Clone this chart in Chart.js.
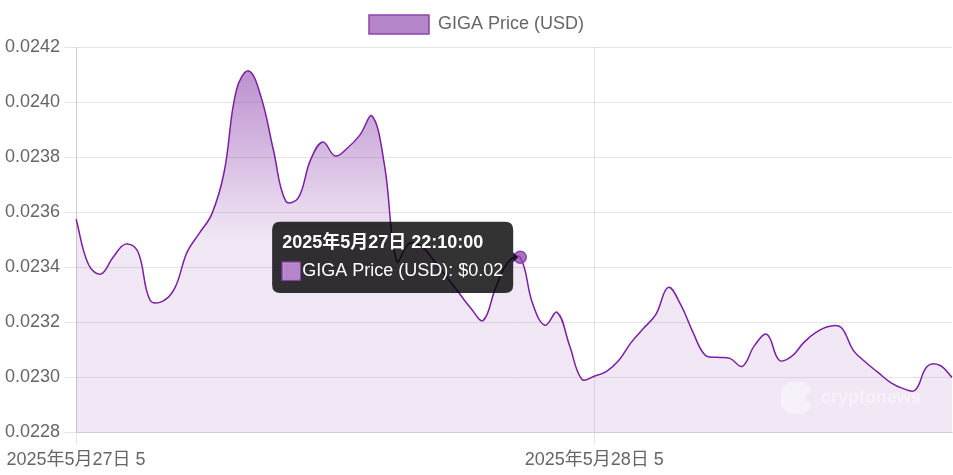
<!DOCTYPE html>
<html>
<head>
<meta charset="utf-8">
<script src="https://cdn.jsdelivr.net/npm/chart.js@4.4.1/dist/chart.umd.min.js"></script>
<style>
  body { margin: 0; background: #fff; }
  #wrap { width: 953px; height: 475px; position: relative; }
</style>
</head>
<body>
<div id="wrap"><canvas id="priceChart"></canvas></div>
<script>
// horários (intervalos de 20 min, 27/05 10:10 -> 28/05 09:50)
var times = [
  "10:10","10:30","10:50","11:10","11:30","11:50","12:10","12:30","12:50","13:10",
  "13:30","13:50","14:10","14:30","14:50","15:10","15:30","15:50","16:10","16:30",
  "16:50","17:10","17:30","17:50","18:10","18:30","18:50","19:10","19:30","19:50",
  "20:10","20:30","20:50","21:10","21:30","21:50","22:10","22:30","22:50","23:10",
  "23:30","23:50","00:10","00:30","00:50","01:10","01:30","01:50","02:10","02:30",
  "02:50","03:10","03:30","03:50","04:10","04:30","04:50","05:10","05:30","05:50",
  "06:10","06:30","06:50","07:10","07:30","07:50","08:10","08:30","08:50","09:10",
  "09:30","09:50"
];

// preço GIGA (USD)
var prices = [
  0.023575, 0.023411, 0.023375, 0.023436, 0.023484, 0.023458, 0.023280, 0.023276, 0.023324, 0.023455,
  0.023524, 0.023593, 0.023745, 0.024044, 0.024113, 0.024018, 0.023825, 0.023640, 0.023651, 0.023789,
  0.023855, 0.023804, 0.023833, 0.023880, 0.023949, 0.023771, 0.023422, 0.023487, 0.023476, 0.023425,
  0.023367, 0.023309, 0.023251, 0.023207, 0.023324, 0.023418, 0.023436, 0.023269, 0.023189, 0.023236,
  0.023116, 0.022993, 0.023004, 0.023022, 0.023062, 0.023127, 0.023178, 0.023229, 0.023327, 0.023265,
  0.023164, 0.023080, 0.023073, 0.023069, 0.023040, 0.023116, 0.023156, 0.023062, 0.023076, 0.023127,
  0.023164, 0.023185, 0.023182, 0.023098, 0.023055, 0.023018, 0.022982, 0.022960, 0.022953, 0.023040,
  0.023044, 0.023000
];

// rótulos do eixo x
var tickIndex = [0, 42];
var tickLabels = ["2025年5月27日 5", "2025年5月28日 5"];

var activeIndex = 36;

// monta os rótulos completos com a data
var fullLabels = [];
var day = 27;
for (var i = 0; i < times.length; i++) {
    if (i > 0 && times[i] < times[i - 1]) day++;
    fullLabels.push("2025年5月" + day + "日 " + times[i] + ":00");
}

Chart.defaults.font.family = "'Liberation Sans', Arial, 'Noto Sans CJK JP', sans-serif";
Chart.defaults.font.size = 18;
Chart.defaults.color = "#666";

// espaço extra abaixo da legenda
var legendMargin = {
    id: "legendMargin",
    beforeInit: function (chart) {
        var fit = chart.legend.fit;
        chart.legend.fit = function () {
            fit.bind(chart.legend)();
            this.height += 3;
        };
    }
};

// marca d'água
var watermark = {
    id: "watermark",
    afterDatasetsDraw: function (chart) {
        var ctx = chart.ctx;
        ctx.save();
        ctx.fillStyle = "rgba(255,255,255,0.45)";
        ctx.beginPath();
        ctx.moveTo(789, 382);
        ctx.lineTo(804, 382);
        ctx.lineTo(812, 390);
        ctx.lineTo(804, 398);
        ctx.lineTo(812, 406);
        ctx.lineTo(804, 414);
        ctx.lineTo(789, 414);
        ctx.lineTo(781, 406);
        ctx.lineTo(781, 390);
        ctx.closePath();
        ctx.fill();
        ctx.font = "bold 18px 'Liberation Sans', Arial, sans-serif";
        ctx.textBaseline = "alphabetic";
        ctx.fillText("cryptonews", 821, 403);
        ctx.restore();
    }
};

var ctx = document.getElementById("priceChart").getContext("2d");
var myChart = new Chart(ctx, {
    type: "line",
    data: {
        labels: fullLabels,
        datasets: [{
            label: "GIGA Price (USD)",
            data: prices,
            borderColor: "#7b1fa2",
            borderWidth: 1.5,
            fill: true,
            tension: 0.4,
            pointRadius: 0,
            pointHoverRadius: 6,
            pointHoverBackgroundColor: "rgba(142,68,173,0.75)",
            pointHoverBorderColor: "#8e44ad",
            pointHoverBorderWidth: 1.5,
            backgroundColor: function (context) {
                var area = context.chart.chartArea;
                if (!area) return "rgba(142,68,173,0.65)";
                var g = context.chart.ctx.createLinearGradient(0, area.top, 0, area.bottom);
                g.addColorStop(0, "rgba(142,68,173,0.65)");
                g.addColorStop(0.5, "rgba(142,68,173,0.13)");
                g.addColorStop(1, "rgba(142,68,173,0.13)");
                return g;
            }
        }]
    },
    options: {
        responsive: true,
        maintainAspectRatio: false,
        animation: false,
        layout: { padding: { top: 5, right: 1, left: 1, bottom: 0 } },
        interaction: { mode: "index", intersect: false },
        plugins: {
            legend: {
                labels: {
                    boxWidth: 60,
                    boxHeight: 19,
                    color: "#666",
                    generateLabels: function (chart) {
                        return [{
                            text: "GIGA Price (USD)",
                            fillStyle: "rgba(142,68,173,0.65)",
                            strokeStyle: "#8e44ad",
                            fontColor: "#666",
                            lineWidth: 1.5,
                            datasetIndex: 0
                        }];
                    }
                }
            },
            tooltip: {
                xAlign: "right",
                yAlign: "center",
                padding: { top: 11, bottom: 11, left: 10, right: 10 },
                cornerRadius: 8,
                titleFont: { size: 18, weight: "bold" },
                bodyFont: { size: 18 },
                boxWidth: 18,
                boxHeight: 18,
                callbacks: {
                    label: function (item) {
                        return item.dataset.label + ": $" + item.parsed.y.toFixed(2);
                    },
                    labelColor: function () {
                        return { borderColor: "#8e44ad", backgroundColor: "rgba(142,68,173,0.65)", borderWidth: 1.5 };
                    }
                }
            }
        },
        scales: {
            x: {
                grid: { tickLength: 12 },
                afterBuildTicks: function (scale) {
                    scale.ticks = tickIndex.map(function (v) { return { value: v }; });
                },
                ticks: {
                    autoSkip: false,
                    maxRotation: 0,
                    padding: 4.5,
                    callback: function (value, index) {
                        return tickLabels[index];
                    }
                }
            },
            y: {
                min: 0.0228,
                max: 0.0242,
                grid: { tickLength: 12 },
                ticks: {
                    padding: 4,
                    stepSize: 0.0002,
                    callback: function (value) {
                        return value.toFixed(4);
                    }
                }
            }
        }
    },
    plugins: [legendMargin, watermark]
});

var active = [{ datasetIndex: 0, index: activeIndex }];
myChart.setActiveElements(active);
myChart.tooltip.setActiveElements(active, { x: 0, y: 0 });
myChart.update("none");
</script>
</body>
</html>
